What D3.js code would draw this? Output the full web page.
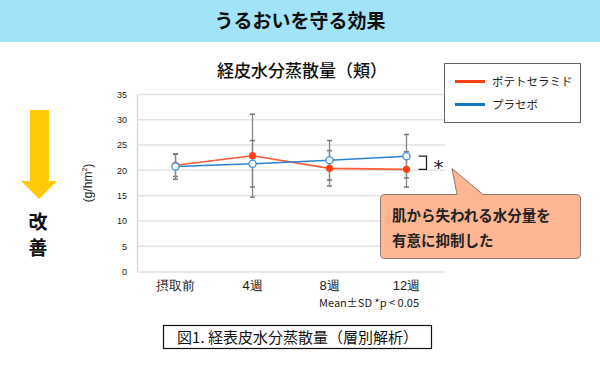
<html>
<head>
  <meta charset="utf-8">
  <script src="https://d3js.org/d3.v7.min.js"></script>
  <title>うるおいを守る効果</title>
  <style>
  body { margin: 0; background: #fff; }
  svg { display: block; font-family: "Noto Sans CJK JP", "Noto Sans", sans-serif; }
  </style>
</head>
<body>
  <div id="chart"></div>
  <script>
  var categories = ["摂取前", "4週", "8週", "12週"];
  var ceramideMean = [21.0, 22.9, 20.4, 20.2];
  var ceramideSD = [2.2, 8.2, 3.5, 3.5];
  var placeboMean = [20.75, 21.3, 22.0, 22.8];
  var placeboSD = [2.5, 4.6, 3.9, 4.3];
  var yTicks = [0, 5, 10, 15, 20, 25, 30, 35];
  var seriesNames = ["ポテトセラミド", "プラセボ"];

  var width = 600, height = 370;
  var svg = d3.select("#chart").append("svg").attr("width", width).attr("height", height);

  // header band
  svg.append("rect").attr("x", 0).attr("y", 0).attr("width", width).attr("height", 42).attr("fill", "#a2e3f8");
  svg.append("text").attr("x", 300).attr("y", 28).attr("text-anchor", "middle")
    .attr("font-size", 19).attr("font-weight", "bold").attr("fill", "#111").text("うるおいを守る効果");

  svg.append("text").attr("x", 302).attr("y", 77).attr("text-anchor", "middle")
    .attr("font-size", 17).attr("font-weight", 500).attr("fill", "#111").text("経皮水分蒸散量（頬）");

  var x = d3.scaleBand().domain(categories).range([137, 445]);
  var y = d3.scaleLinear().domain([0, 35]).range([271.5, 94.5]);

  // grid
  svg.selectAll(".grid").data(yTicks.slice(1)).enter().append("line")
    .attr("x1", 137).attr("x2", 445)
    .attr("y1", function(d) { return y(d); }).attr("y2", function(d) { return y(d); })
    .attr("stroke", "#e2e2e2").attr("stroke-width", 1.5);

  var yAxis = svg.append("g").attr("transform", "translate(137,0)")
    .call(d3.axisLeft(y).tickValues(yTicks).tickSize(0).tickPadding(10));
  yAxis.select(".domain").attr("stroke", "#d8d8d8").attr("stroke-width", 1.5);
  yAxis.selectAll("text").attr("font-size", 9).attr("fill", "#222").attr("font-family", "Arial, Liberation Sans, sans-serif");

  var xAxis = svg.append("g").attr("transform", "translate(0,271.5)")
    .call(d3.axisBottom(x).tickSize(0).tickPadding(9));
  xAxis.select(".domain").attr("stroke", "#e2e2e2").attr("stroke-width", 1.5);
  xAxis.selectAll("text").attr("font-size", 13).attr("fill", "#222");

  function cx(d, i) { return x(categories[i]) + x.bandwidth() / 2; }

  function drawBars(mean, sd) {
    var g = svg.append("g");
    mean.forEach(function(m, i) {
      var px = cx(null, i);
      g.append("line").attr("x1", px).attr("x2", px)
        .attr("y1", y(m + sd[i])).attr("y2", y(m - sd[i]))
        .attr("stroke", "#888").attr("stroke-width", 1.3);
      [m + sd[i], m - sd[i]].forEach(function(v) {
        g.append("line").attr("x1", px - 2.5).attr("x2", px + 2.5)
          .attr("y1", y(v)).attr("y2", y(v))
          .attr("stroke", "#777").attr("stroke-width", 1.5);
      });
    });
  }
  drawBars(ceramideMean, ceramideSD);
  drawBars(placeboMean, placeboSD);

  var line = d3.line().x(function(d, i) { return cx(d, i); }).y(function(d) { return y(d); });

  svg.append("path").datum(ceramideMean).attr("d", line)
    .attr("fill", "none").attr("stroke", "#ff5a36").attr("stroke-width", 1.6);
  svg.append("path").datum(placeboMean).attr("d", line)
    .attr("fill", "none").attr("stroke", "#2a82cf").attr("stroke-width", 1.6);

  svg.selectAll(".cer").data(ceramideMean).enter().append("circle")
    .attr("cx", cx).attr("cy", function(d) { return y(d); }).attr("r", 3.6)
    .attr("fill", "#ff4014");
  svg.selectAll(".pla").data(placeboMean).enter().append("circle")
    .attr("cx", cx).attr("cy", function(d) { return y(d); }).attr("r", 3.6)
    .attr("fill", "#fff").attr("stroke", "#3c94dc").attr("stroke-width", 1.3);

  // significance bracket
  var bx = cx(null, 3) + 12;
  svg.append("path")
    .attr("d", "M" + bx + "," + y(placeboMean[3]) + "H" + (bx + 8) + "V" + y(ceramideMean[3]) + "H" + bx)
    .attr("fill", "none").attr("stroke", "#222").attr("stroke-width", 1.3);
  svg.append("text").attr("x", bx + 15).attr("y", 174).attr("font-size", 20)
    .attr("font-family", "DejaVu Sans, sans-serif").attr("fill", "#222").text("*");

  // y label
  svg.append("text").attr("transform", "translate(92,183) rotate(-90)")
    .attr("text-anchor", "middle").attr("font-size", 12).attr("fill", "#222")
    .attr("font-family", "Arial, Liberation Sans, sans-serif")
    .html("(g/hm<tspan dy='-5' font-size='7'>2</tspan><tspan dy='5'>)</tspan>");

  // legend
  svg.append("rect").attr("x", 444.5).attr("y", 63.5).attr("width", 136).attr("height", 59)
    .attr("fill", "#fff").attr("stroke", "#666").attr("stroke-width", 1);
  var legColors = ["#ff4014", "#1478c8"];
  seriesNames.forEach(function(n, i) {
    var ly = 81.5 + i * 23;
    svg.append("line").attr("x1", 455).attr("x2", 485).attr("y1", ly).attr("y2", ly)
      .attr("stroke", legColors[i]).attr("stroke-width", 3);
    svg.append("text").attr("x", 492).attr("y", ly + 4).attr("font-size", 11.5).attr("fill", "#222").text(n);
  });

  // callout
  svg.append("path")
    .attr("d", "M385,194.5 H457 L452,168.5 L483,194.5 H576 Q580.5,194.5 580.5,199 V254 Q580.5,258.5 576,258.5 H385 Q380.5,258.5 380.5,254 V199 Q380.5,194.5 385,194.5 Z")
    .attr("fill", "#fdb594").attr("stroke", "#8c7a70").attr("stroke-width", 1);
  svg.append("text").attr("x", 392).attr("y", 221).attr("font-size", 14.5).attr("font-weight", "bold")
    .attr("fill", "#222").text("肌から失われる水分量を");
  svg.append("text").attr("x", 392).attr("y", 246).attr("font-size", 14.5).attr("font-weight", "bold")
    .attr("fill", "#222").text("有意に抑制した");

  // improvement arrow
  svg.append("path").attr("d", "M30,110 H49 V181 H57 L39,199 L21,181 H30 Z").attr("fill", "#ffcb05");
  svg.append("text").attr("x", 38).attr("y", 229).attr("text-anchor", "middle")
    .attr("font-size", 19).attr("font-weight", "bold").attr("fill", "#111").text("改");
  svg.append("text").attr("x", 38).attr("y", 255).attr("text-anchor", "middle")
    .attr("font-size", 19).attr("font-weight", "bold").attr("fill", "#111").text("善");

  svg.append("text").attr("x", 319).attr("y", 307)
    .attr("font-size", 11).attr("fill", "#222").attr("textLength", 100).text("Mean±SD *p < 0.05");

  // caption box
  svg.append("rect").attr("x", 163.5).attr("y", 325.5).attr("width", 268).attr("height", 23)
    .attr("fill", "#fff").attr("stroke", "#111").attr("stroke-width", 1.2);
  svg.append("text").attr("x", 297.5).attr("y", 343).attr("text-anchor", "middle")
    .attr("font-size", 15).attr("fill", "#111").text("図1. 経表皮水分蒸散量（層別解析）");
  </script>
</body>
</html>
